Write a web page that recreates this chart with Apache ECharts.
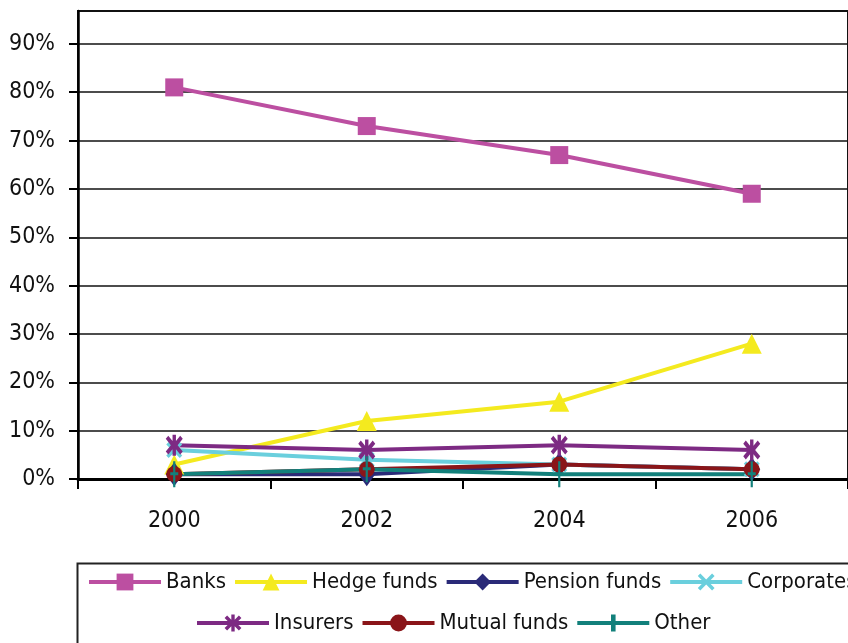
<!DOCTYPE html>
<html>
<head>
<meta charset="utf-8">
<script src="https://cdn.jsdelivr.net/npm/echarts@6/dist/echarts.min.js"></script>
<style>html,body{margin:0;padding:0;background:#fff;}#c{width:848px;height:643px;}</style>
</head>
<body>
<div id="c"></div>
<script>
var years = ['2000', '2002', '2004', '2006'];
var banks = [81, 73, 67, 59];
var hedgeFunds = [3, 12, 16, 28];
var pensionFunds = [1, 1, 3, 2];
var corporates = [6, 4, 3, 2];
var insurers = [7, 6, 7, 6];
var mutualFunds = [1, 2, 3, 2];
var other = [1, 2, 1, 1];
var yTicks = [0, 10, 20, 30, 40, 50, 60, 70, 80, 90];

var FONT = "'Liberation Sans Narrow', 'Arial Narrow', 'DejaVu Sans Condensed', sans-serif";
var X_PATH = 'path://M0,3 L3,0 L10,7 L17,0 L20,3 L13,10 L20,17 L17,20 L10,13 L3,20 L0,17 L7,10 Z';
var STAR_PATH = 'path://M8,0 L12,0 L12,6 L17,1 L20,4 L14,10 L20,16 L17,19 L12,14 L12,20 L8,20 L8,14 L3,19 L0,16 L6,10 L0,4 L3,1 L8,6 Z';
var PLUS_PATH = 'path://M4,0 L7,0 L7,11 L11,11 L11,14 L7,14 L7,26 L4,26 L4,14 L0,14 L0,11 L4,11 Z';

function mk(name, data, color, symbol, size) {
  return {
    name: name, type: 'line', data: data,
    symbol: symbol, symbolSize: size,
    lineStyle: {color: color, width: 4},
    itemStyle: {color: color},
    emphasis: {disabled: true},
    animation: false
  };
}

var legendBase = {
  itemWidth: 72, itemHeight: 21, itemGap: 7, width: 1000, padding: 0,
  lineStyle: {width: 4},
  textStyle: {fontSize: 22, fontFamily: FONT, color: '#111'}
};

var chart = echarts.init(document.getElementById('c'));
chart.setOption({
  backgroundColor: '#fff',
  animation: false,
  grid: {left: 78, top: 11, right: -4, bottom: 164, show: true, borderColor: '#111', borderWidth: 2, backgroundColor: 'transparent'},
  xAxis: {
    type: 'category', data: years, boundaryGap: true,
    axisLine: {lineStyle: {color: '#000', width: 3}},
    axisTick: {show: true, length: 10, lineStyle: {color: '#000', width: 2}},
    axisLabel: {color: '#111', fontSize: 23, fontFamily: FONT, margin: 31},
    splitLine: {show: false}
  },
  yAxis: {
    type: 'value', min: 0, max: 96.8, interval: 10,
    axisLine: {show: true, lineStyle: {color: '#000', width: 2.5}},
    axisTick: {show: true, length: 9, lineStyle: {color: '#000', width: 2}, customValues: yTicks},
    axisLabel: {color: '#111', fontSize: 23, fontFamily: FONT, margin: 23, customValues: yTicks,
      formatter: function (v) { return (Math.abs(v % 10) < 1e-6) ? v + '%' : ''; }},
    splitLine: {show: true, lineStyle: {color: '#111', width: 1.5}}
  },
  legend: [
    Object.assign({}, legendBase, {left: 87, top: 571, data: ['Banks', 'Hedge funds', 'Pension funds', 'Corporates']}),
    Object.assign({}, legendBase, {left: 195, top: 612, data: ['Insurers', 'Mutual funds', 'Other']})
  ],
  graphic: [{
    type: 'rect', left: 75, top: 561, shape: {width: 800, height: 100},
    style: {fill: 'none', stroke: '#222', lineWidth: 2}, z: -1
  }],
  series: [
    mk('Banks', banks, '#BC4FA1', 'rect', 18),
    mk('Hedge funds', hedgeFunds, '#F4EA1F', 'triangle', 20),
    mk('Pension funds', pensionFunds, '#2A2A78', 'diamond', [17, 24]),
    mk('Corporates', corporates, '#6ACFDD', X_PATH, 16),
    mk('Insurers', insurers, '#7D2A83', STAR_PATH, [17, 21]),
    mk('Mutual funds', mutualFunds, '#8A1519', 'circle', 16),
    mk('Other', other, '#12807B', PLUS_PATH, [8, 26])
  ]
});
</script>
</body>
</html>
